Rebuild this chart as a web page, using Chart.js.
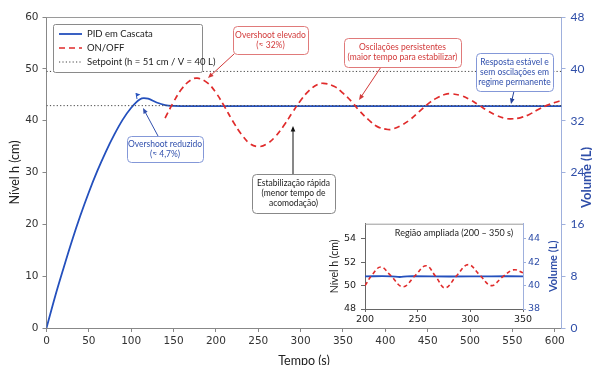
<!DOCTYPE html>
<html>
<head>
<meta charset="utf-8">
<script src="https://cdn.jsdelivr.net/npm/chart.js@4.4.1/dist/chart.umd.min.js"></script>
<style>
  html, body { margin: 0; padding: 0; background: #fff; }
  #wrap { position: relative; width: 592px; height: 365px; overflow: hidden; }
  #main { position: absolute; left: 0; top: 0; }
  #inset { position: absolute; left: 318px; top: 213px; }
</style>
</head>
<body>
<div id="wrap">
  <canvas id="main" width="592" height="365"></canvas>
  <canvas id="inset" width="242" height="114"></canvas>
</div>
<script>
// main chart data (tempo em s, nível em cm)
const pidT = [0, 10, 20, 30, 40, 50, 60, 70, 80, 90, 100, 110, 115, 120, 130, 140, 150, 170, 200, 250, 300, 350, 400, 450, 500, 550, 608];
const pidH = [0, 6.0, 11.5, 16.8, 21.7, 26.2, 30.3, 34.0, 37.3, 40.2, 42.5, 44.1, 44.35, 44.25, 43.5, 43.0, 42.85, 42.8, 42.8, 42.8, 42.8, 42.8, 42.8, 42.8, 42.8, 42.8, 42.8];

const onoffT = [140, 150, 160, 170, 178, 190, 200, 210, 220, 230, 240, 250, 260, 270, 280, 290, 300, 310, 320, 327, 340, 350, 360, 370, 380, 390, 403, 410, 420, 430, 440, 450, 460, 470, 477, 490, 500, 510, 520, 530, 540, 548, 560, 570, 580, 590, 600, 608];
const onoffH = [40.5, 43.6, 46.2, 47.8, 48.2, 47.3, 45.4, 42.75, 39.9, 37.4, 35.6, 35.0, 35.5, 36.9, 39.0, 41.5, 43.9, 45.8, 46.96, 47.2, 46.6, 45.3, 43.7, 41.8, 40.2, 38.9, 38.3, 38.45, 39.2, 40.3, 41.75, 43.2, 44.3, 45.05, 45.2, 44.8, 44.05, 43.05, 42.0, 41.1, 40.5, 40.35, 40.6, 41.2, 42.1, 42.9, 43.5, 43.9];

const setpointT = [0, 608];
const setpointH = [49.5, 49.5];
const pidRefH = [42.9, 42.9];

const xTicks = [0, 50, 100, 150, 200, 250, 300, 350, 400, 450, 500, 550, 600];

// inset data (200 - 350 s)
const insetT = [200, 207, 215, 224, 236, 247, 258, 267, 276, 287, 298, 309, 320, 330, 341, 350];
const insetOnoff = [50.0, 50.95, 51.6, 50.9, 49.9, 50.8, 51.7, 50.8, 49.8, 50.85, 51.8, 50.9, 50.0, 50.7, 51.35, 51.1];
const insetPidT = [200, 225, 233, 240, 280, 320, 350];
const insetPid = [50.8, 50.8, 50.74, 50.8, 50.78, 50.8, 50.8];

const BLUE = '#2450bd';
const RED = '#e02b2b';
const AXIS_BLUE = '#2f4ea8';
const AXIS_BLUE_LINE = '#9fb0dd';

function pts(xs, ys) {
  return xs.map((x, i) => ({ x: x, y: ys[i] }));
}

function roundRect(ctx, x, y, w, h, r) {
  ctx.beginPath();
  ctx.moveTo(x + r, y);
  ctx.lineTo(x + w - r, y);
  ctx.quadraticCurveTo(x + w, y, x + w, y + r);
  ctx.lineTo(x + w, y + h - r);
  ctx.quadraticCurveTo(x + w, y + h, x + w - r, y + h);
  ctx.lineTo(x + r, y + h);
  ctx.quadraticCurveTo(x, y + h, x, y + h - r);
  ctx.lineTo(x, y + r);
  ctx.quadraticCurveTo(x, y, x + r, y);
  ctx.closePath();
}

function arrow(ctx, x1, y1, x2, y2, color) {
  const a = Math.atan2(y2 - y1, x2 - x1);
  const s = 6;
  ctx.strokeStyle = color;
  ctx.fillStyle = color;
  ctx.lineWidth = 1;
  ctx.beginPath();
  ctx.moveTo(x1, y1);
  ctx.lineTo(x2 - Math.cos(a) * s * 0.8, y2 - Math.sin(a) * s * 0.8);
  ctx.stroke();
  ctx.beginPath();
  ctx.moveTo(x2, y2);
  ctx.lineTo(x2 - s * Math.cos(a - 0.4), y2 - s * Math.sin(a - 0.4));
  ctx.lineTo(x2 - s * Math.cos(a + 0.4), y2 - s * Math.sin(a + 0.4));
  ctx.closePath();
  ctx.fill();
}

// callout boxes
const notes = [
  { x: 233, y: 26, w: 75, h: 28, lines: ['Overshoot elevado', '(≈ 32%)'], border: '#e07a7a', text: '#d23a3a', from: [234, 54], to: [208, 78], arrowColor: '#d23a3a' },
  { x: 344, y: 38, w: 117, h: 29, lines: ['Oscilações persistentes', '(maior tempo para estabilizar)'], border: '#e07a7a', text: '#d23a3a', from: [381, 67], to: [359, 100], arrowColor: '#d23a3a' },
  { x: 476, y: 53, w: 77, h: 38, lines: ['Resposta estável e', 'sem oscilações em', 'regime permanente'], border: '#8498d8', text: '#3150ad', from: [514, 91], to: [511, 104], arrowColor: '#23409a' },
  { x: 127, y: 136, w: 76, h: 26, lines: ['Overshoot reduzido', '(≈ 4,7%)'], border: '#8498d8', text: '#3150ad', from: [158, 136], to: [143, 108], arrowColor: '#3150ad' },
  { x: 252, y: 174, w: 83, h: 39, lines: ['Estabilização rápida', '(menor tempo de', 'acomodação)'], border: '#888', text: '#222', from: [293, 174], to: [293, 126], arrowColor: '#111' }
];

const mainDecor = {
  id: 'mainDecor',
  afterDraw(chart) {
    const ctx = chart.ctx;
    const area = chart.chartArea;
    ctx.save();
    // plot frame top
    ctx.strokeStyle = '#9a9a9a';
    ctx.lineWidth = 1;
    ctx.beginPath();
    ctx.moveTo(area.left, area.top + 0.5);
    ctx.lineTo(area.right, area.top + 0.5);
    ctx.stroke();

    // legend
    const lx = 53, ly = 24, lw = 149, lh = 48;
    roundRect(ctx, lx + 0.5, ly + 0.5, lw, lh, 2);
    ctx.fillStyle = '#fff';
    ctx.fill();
    ctx.strokeStyle = '#8a8a8a';
    ctx.stroke();
    const items = chart.data.datasets.filter(d => d.legendRow !== undefined).sort((a, b) => a.legendRow - b.legendRow);
    items.forEach((d, i) => {
      const y = ly + 10 + i * 14;
      ctx.strokeStyle = d.borderColor;
      ctx.lineWidth = d.borderWidth;
      ctx.setLineDash(d.borderDash || []);
      ctx.beginPath();
      ctx.moveTo(59, y);
      ctx.lineTo(82, y);
      ctx.stroke();
      ctx.setLineDash([]);
      ctx.fillStyle = '#222';
      ctx.font = '9.5px Lato';
      ctx.textAlign = 'left';
      ctx.textBaseline = 'middle';
      ctx.fillText(d.label, 87, y);
    });

    // small flag at PID peak
    ctx.strokeStyle = BLUE;
    ctx.fillStyle = BLUE;
    ctx.lineWidth = 1;
    ctx.beginPath();
    ctx.moveTo(137, 99);
    ctx.lineTo(136, 93);
    ctx.stroke();
    ctx.beginPath();
    ctx.moveTo(136, 93);
    ctx.lineTo(140.5, 94.5);
    ctx.lineTo(136.6, 96.5);
    ctx.closePath();
    ctx.fill();

    // callouts
    notes.forEach(n => {
      arrow(ctx, n.from[0], n.from[1], n.to[0], n.to[1], n.arrowColor);
      roundRect(ctx, n.x + 0.5, n.y + 0.5, n.w, n.h, 4);
      ctx.fillStyle = '#fff';
      ctx.fill();
      ctx.strokeStyle = n.border;
      ctx.lineWidth = 1;
      ctx.stroke();
      ctx.fillStyle = n.text;
      ctx.font = '8.5px Lato';
      ctx.textAlign = 'center';
      ctx.textBaseline = 'middle';
      const cy = n.y + n.h / 2;
      n.lines.forEach((t, i) => {
        ctx.fillText(t, n.x + n.w / 2, cy + (i - (n.lines.length - 1) / 2) * 10);
      });
    });

    // right axis title
    ctx.save();
    ctx.translate(587, (area.top + area.bottom) / 2 + 5);
    ctx.rotate(-Math.PI / 2);
    ctx.fillStyle = AXIS_BLUE;
    ctx.font = 'bold 13px Lato';
    ctx.textAlign = 'center';
    ctx.textBaseline = 'middle';
    ctx.fillText('Volume (L)', 0, 0);
    ctx.restore();
    ctx.restore();
  }
};

new Chart(document.getElementById('main'), {
  type: 'line',
  data: {
    datasets: [
      { label: 'ON/OFF', legendRow: 1, data: pts(onoffT, onoffH), borderColor: RED, borderWidth: 1.7, borderDash: [6, 4], pointRadius: 0, tension: 0.4, yAxisID: 'y' },
      { label: 'Setpoint (h = 51 cm / V = 40 L)', legendRow: 2, data: pts(setpointT, setpointH), borderColor: '#444', borderWidth: 1, borderDash: [1.2, 2.2], pointRadius: 0, yAxisID: 'y' },
      { label: 'ref', data: pts(setpointT, pidRefH), borderColor: '#444', borderWidth: 1, borderDash: [1.2, 2.2], pointRadius: 0, yAxisID: 'y' },
      { label: 'PID em Cascata', legendRow: 0, data: pts(pidT, pidH), borderColor: BLUE, borderWidth: 1.8, pointRadius: 0, cubicInterpolationMode: 'monotone', yAxisID: 'y' }
    ]
  },
  options: {
    responsive: false,
    animation: false,
    layout: { padding: { top: 17, left: 0, right: 0, bottom: 0 } },
    plugins: { legend: { display: false }, tooltip: { enabled: false } },
    scales: {
      x: {
        type: 'linear', min: 0, max: 608,
        afterBuildTicks: s => { s.ticks = xTicks.map(v => ({ value: v })); },
        afterFit: s => { s.height = 37; },
        ticks: { font: { family: 'DejaVu Sans', size: 10.5 }, color: '#333', padding: 3, maxRotation: 0 },
        grid: { drawOnChartArea: false, tickLength: 4, color: '#888' },
        border: { color: '#888' },
        title: { display: true, text: 'Tempo (s)', font: { family: 'Lato', size: 12.5 }, color: '#222', padding: { top: 0, bottom: -3.5 } }
      },
      y: {
        position: 'left', min: 0, max: 60,
        afterFit: s => { s.width = 46.5; },
        ticks: { stepSize: 10, font: { family: 'DejaVu Sans', size: 10.5 }, color: '#333', padding: 4 },
        grid: { drawOnChartArea: false, tickLength: 4, color: '#888' },
        border: { color: '#888' },
        title: { display: true, text: 'Nível h (cm)', font: { family: 'Lato', size: 12.5 }, color: '#222', padding: { top: 7, bottom: 0 } }
      },
      yVol: {
        position: 'right', min: 0, max: 48,
        afterFit: s => { s.width = 30.5; },
        ticks: { stepSize: 8, font: { family: 'Lato', size: 12 }, color: AXIS_BLUE, padding: 5 },
        grid: { drawOnChartArea: false, tickLength: 4, color: AXIS_BLUE_LINE },
        border: { color: AXIS_BLUE_LINE }
      }
    }
  },
  plugins: [mainDecor]
});

const insetDecor = {
  id: 'insetDecor',
  afterDraw(chart) {
    const ctx = chart.ctx;
    const area = chart.chartArea;
    ctx.save();
    ctx.strokeStyle = '#9a9a9a';
    ctx.lineWidth = 1;
    ctx.beginPath();
    ctx.moveTo(area.left, area.top + 0.5);
    ctx.lineTo(area.right, area.top + 0.5);
    ctx.stroke();
    ctx.fillStyle = '#222';
    ctx.font = '9px Lato';
    ctx.textAlign = 'center';
    ctx.textBaseline = 'middle';
    ctx.fillText('Região ampliada (200 – 350 s)', 136, 20);
    ctx.translate(235, (area.top + area.bottom) / 2);
    ctx.rotate(-Math.PI / 2);
    ctx.fillStyle = AXIS_BLUE;
    ctx.font = 'bold 11px Lato';
    ctx.fillText('Volume (L)', 0, 0);
    ctx.restore();
  }
};

new Chart(document.getElementById('inset'), {
  type: 'line',
  data: {
    datasets: [
      { label: 'ON/OFF', data: pts(insetT, insetOnoff), borderColor: RED, borderWidth: 1.6, borderDash: [4, 3], pointRadius: 0, tension: 0.4, yAxisID: 'y' },
      { label: 'PID em Cascata', data: pts(insetPidT, insetPid), borderColor: BLUE, borderWidth: 1.8, pointRadius: 0, tension: 0.3, yAxisID: 'y' }
    ]
  },
  options: {
    responsive: false,
    animation: false,
    layout: { padding: { top: 10, left: 0, right: 0, bottom: 0 } },
    plugins: { legend: { display: false }, tooltip: { enabled: false } },
    scales: {
      x: {
        type: 'linear', min: 200, max: 350,
        afterFit: s => { s.height = 18; },
        ticks: { stepSize: 50, font: { family: 'DejaVu Sans', size: 9.5 }, color: '#222', padding: 2, maxRotation: 0 },
        grid: { drawOnChartArea: false, tickLength: 3, color: '#666' },
        border: { color: '#666' }
      },
      y: {
        position: 'left', min: 48, max: 55.3,
        afterFit: s => { s.width = 47; },
        ticks: { stepSize: 2, includeBounds: false, font: { family: 'DejaVu Sans', size: 9.5 }, color: '#222', padding: 5 },
        grid: { drawOnChartArea: false, tickLength: 4, color: '#666' },
        border: { color: '#666' },
        title: { display: true, text: 'Nível h (cm)', font: { family: 'Lato', size: 10.5 }, color: '#222', padding: { top: 10.5, bottom: 0 } }
      },
      y2: {
        position: 'right', min: 38, max: 45.3,
        afterFit: s => { s.width = 37; },
        ticks: { stepSize: 2, includeBounds: false, font: { family: 'DejaVu Sans', size: 9.5 }, color: AXIS_BLUE, padding: 2 },
        grid: { drawOnChartArea: false, tickLength: 3, color: AXIS_BLUE_LINE },
        border: { color: AXIS_BLUE_LINE }
      }
    }
  },
  plugins: [insetDecor]
});
</script>
</body>
</html>
